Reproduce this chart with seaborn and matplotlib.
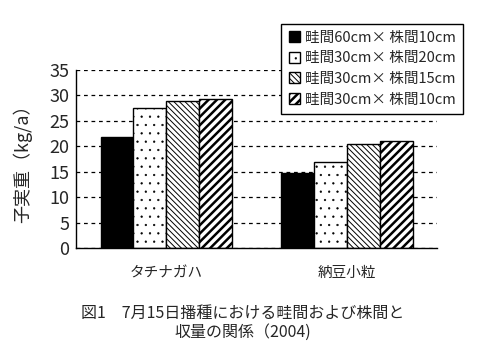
import matplotlib
matplotlib.use("Agg")
import matplotlib.pyplot as plt
import seaborn as sns
import pandas as pd

categories = ["タチナガハ", "納豆小粒"]
series = ["畦間60cm× 株間10cm", "畦間30cm× 株間20cm", "畦間30cm× 株間15cm", "畦間30cm× 株間10cm"]
values = {
    series[0]: [21.8, 14.7],
    series[1]: [27.5, 16.9],
    series[2]: [28.8, 20.4],
    series[3]: [29.2, 21.0],
}
yticks = [0, 5, 10, 15, 20, 25, 30, 35]
ylabel = "子実重（kg/a）"
caption = "図1　7月15日播種における畦間および株間と\n収量の関係（2004)"

rows = []
for s in series:
    for c, v in zip(categories, values[s]):
        rows.append({"cat": c, "series": s, "value": v})
df = pd.DataFrame(rows)

sns.set_theme(style="white")
plt.rcParams["font.family"] = ["Noto Sans CJK JP", "DejaVu Sans"]
plt.rcParams["hatch.linewidth"] = 0.8

fig = plt.figure(figsize=(4.85, 3.46), dpi=100)
ax = fig.add_axes([0.157, 0.283, 0.744, 0.515])

sns.barplot(data=df, x="cat", y="value", hue="series", order=categories,
            hue_order=series, ax=ax, width=0.73, gap=0, edgecolor="black",
            linewidth=1.0, legend=True)

fills = ["black", "white", "white", "white"]
hatches = [None, "..", "\\\\\\\\\\\\", "////"]
hlw = [0.8, 0.4, 0.7, 1.8]


def style(p, fc, h, lw):
    p.set_facecolor(fc)
    p.set_edgecolor("black")
    if h:
        p.set_hatch(h)
    try:
        p.set_hatch_linewidth(lw)
    except Exception:
        pass


for cont, fc, h, lw in zip(ax.containers, fills, hatches, hlw):
    for p in cont:
        style(p, fc, h, lw)

ax.set_ylim(0, 35)
ax.set_xlim(-0.5, 1.5)
ax.set_yticks(yticks)
ax.set_yticklabels([str(t) for t in yticks], fontsize=13)
ax.yaxis.grid(True, linestyle=(0, (3, 3)), color="black", linewidth=0.9)
ax.set_axisbelow(True)
for s in ["top", "right"]:
    ax.spines[s].set_visible(False)
for s in ["left", "bottom"]:
    ax.spines[s].set_color("black")
    ax.spines[s].set_linewidth(1.0)
ax.tick_params(axis="y", direction="out", length=3, width=1, color="black", pad=2)
ax.set_xticks([0, 1])
ax.set_xticklabels(categories, fontsize=10.5)
ax.tick_params(axis="x", length=0, pad=13)
ax.set_xticks([-0.5, 0.5, 1.5], minor=True)
ax.tick_params(axis="x", which="minor", direction="in", length=5, width=1, color="black")
ax.set_xlabel("")
ax.set_ylabel(ylabel, fontsize=13, labelpad=12)

handles, labels = ax.get_legend_handles_labels()
ax.get_legend().remove()
leg = fig.legend(handles, labels, loc="upper left", bbox_to_anchor=(0.565, 0.953),
                 frameon=True, fancybox=False, edgecolor="black", framealpha=1,
                 fontsize=10.5, handlelength=0.8, handleheight=0.8, handletextpad=0.3,
                 labelspacing=0.45, borderpad=0.5)
leg.get_frame().set_linewidth(1.0)
for hp, fc, h, lw in zip(leg.get_patches(), fills, hatches, hlw):
    style(hp, fc, h, lw)

fig.text(0.5, 0.015, caption, ha="center", va="bottom", fontsize=11.5, linespacing=1.15)

fig.savefig("out.png", dpi=100, facecolor="white")
